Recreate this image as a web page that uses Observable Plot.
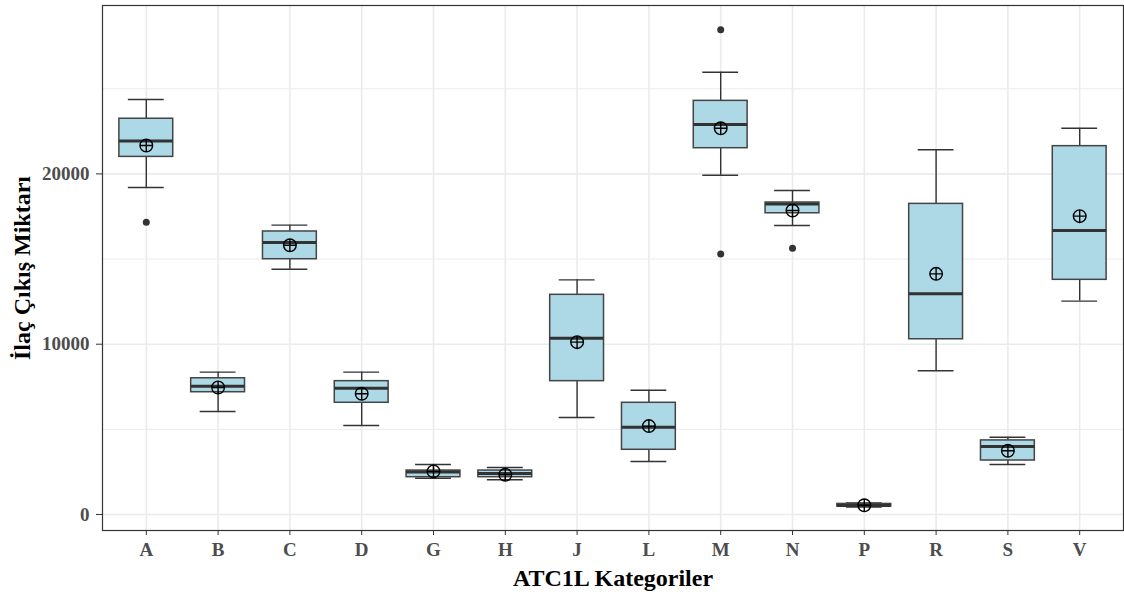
<!DOCTYPE html>
<html>
<head>
<meta charset="utf-8">
<script src="https://cdn.jsdelivr.net/npm/d3@7"></script>
<script src="https://cdn.jsdelivr.net/npm/@observablehq/plot@0.6"></script>
<style>
  body { margin: 0; background: #fff; }
</style>
</head>
<body>
<div id="chart"></div>
<script>
const categories = ["A","B","C","D","G","H","J","L","M","N","P","R","S","V"];
const lowerWhisker = [19200, 6050, 14400, 5230, 2130, 2040, 5700, 3110, 19920, 16970, 440, 8440, 2940, 12530];
const q1 =           [21000, 7180, 14990, 6560, 2190, 2190, 7830, 3800, 21510, 17690, 470, 10290, 3170, 13780];
const median =       [21940, 7530, 15970, 7420, 2490, 2410, 10350, 5130, 22900, 18240, 530, 12960, 3990, 16680];
const q3 =           [23240, 8000, 16620, 7830, 2580, 2580, 12900, 6560, 24290, 18320, 620, 18240, 4350, 21630];
const upperWhisker = [24370, 8360, 16990, 8360, 2940, 2760, 13780, 7300, 25970, 19030, 680, 21420, 4540, 22680];
const means =        [21670, 7460, 15810, 7090, 2530, 2330, 10120, 5190, 22680, 17850, 540, 14130, 3740, 17520];
const outlierCats = ["A", "M", "M", "N"];
const outlierVals = [17160, 28460, 15290, 15640];
const yTicks = [0, 10000, 20000];
const yMinor = [5000, 15000, 25000];
const xTitle = "ATC1L Kategoriler";
const yTitle = "İlaç Çıkış Miktarı";

const boxes = categories.map((c, i) => ({
  cat: c, lo: lowerWhisker[i], q1: q1[i], med: median[i], q3: q3[i], hi: upperWhisker[i], mean: means[i]
}));
const outliers = outlierCats.map((c, i) => ({cat: c, v: outlierVals[i]}));

const crossCircle = {
  draw(ctx, size) {
    const r = Math.sqrt(size / Math.PI);
    ctx.moveTo(r, 0);
    ctx.arc(0, 0, r, 0, 2 * Math.PI);
    ctx.moveTo(-r, 0); ctx.lineTo(r, 0);
    ctx.moveTo(0, -r); ctx.lineTo(0, r);
  }
};

const font = "Liberation Serif";
const chart = Plot.plot({
  width: 1124,
  height: 597,
  marginLeft: 102,
  marginRight: 1,
  marginTop: 5,
  marginBottom: 67,
  style: {fontFamily: font, background: "#fff"},
  x: {type: "band", domain: categories, paddingInner: 0.25, paddingOuter: 0.235, align: 0.5, round: false, label: null},
  y: {domain: [-940, 29890], label: null},
  marks: [
    Plot.ruleY(yMinor, {stroke: "#EBEBEB", strokeWidth: 1}),
    Plot.ruleY(yTicks, {stroke: "#EBEBEB", strokeWidth: 1.6}),
    Plot.ruleX(categories, {x: d => d, stroke: "#EBEBEB", strokeWidth: 1.6}),
    Plot.ruleX(boxes, {x: "cat", y1: "lo", y2: "hi", stroke: "#333", strokeWidth: 1.4}),
    Plot.tickY(boxes, {x: "cat", y: "lo", stroke: "#333", strokeWidth: 1.4, insetLeft: 9, insetRight: 9}),
    Plot.tickY(boxes, {x: "cat", y: "hi", stroke: "#333", strokeWidth: 1.4, insetLeft: 9, insetRight: 9}),
    Plot.barY(boxes, {x: "cat", y1: "q1", y2: "q3", fill: "#ADD8E6", stroke: "#444", strokeWidth: 1.5}),
    Plot.tickY(boxes, {x: "cat", y: "med", stroke: "#333", strokeWidth: 3}),
    Plot.dot(outliers, {x: "cat", y: "v", r: 3.5, fill: "#333", stroke: "none"}),
    Plot.dot(boxes, {x: "cat", y: "mean", symbol: crossCircle, r: 6.3, fill: "none", stroke: "#000", strokeWidth: 1.4}),
    Plot.frame({stroke: "#333", strokeWidth: 1.2}),
    Plot.axisY(yTicks, {tickSize: 6, tickPadding: 7, tickFormat: d3.format("d"), fontSize: 19, fontWeight: "bold", fill: "#4D4D4D", stroke: "#333", label: null}),
    Plot.axisX({tickSize: 5, tickPadding: 7, fontSize: 19, fontWeight: "bold", fill: "#4D4D4D", stroke: "#333", label: null}),
    Plot.text([xTitle], {frameAnchor: "bottom", dy: 48, text: d => d, fontSize: 24, fontWeight: "bold", fill: "#000", lineAnchor: "middle"}),
    Plot.text([yTitle], {frameAnchor: "left", dx: -80, rotate: -90, text: d => d, fontSize: 24, fontWeight: "bold", fill: "#000", lineAnchor: "middle", textAnchor: "middle"})
  ]
});
document.getElementById("chart").appendChild(chart);
</script>
</body>
</html>
